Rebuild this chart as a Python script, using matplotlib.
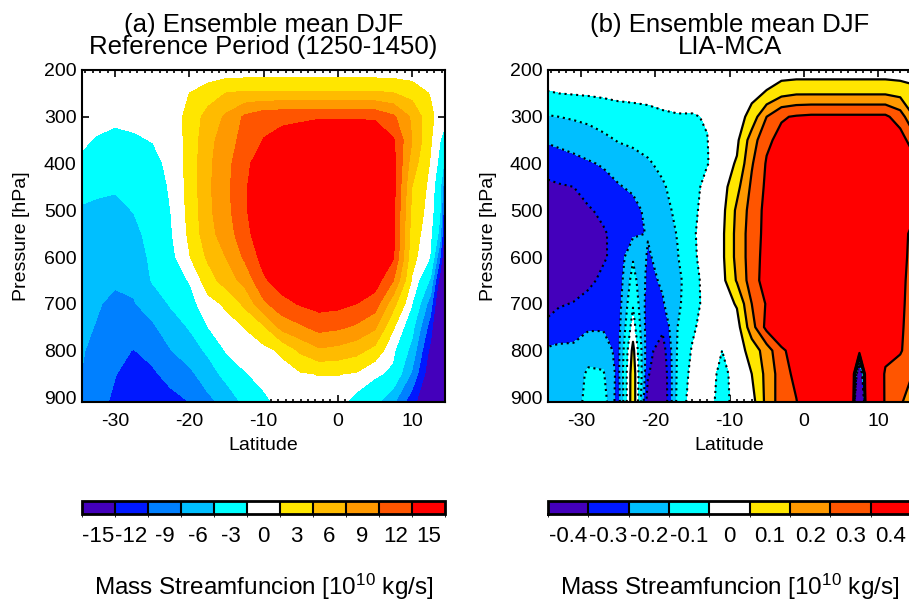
import matplotlib
matplotlib.use("Agg")
import matplotlib.pyplot as plt
import numpy as np
from matplotlib.colors import ListedColormap, BoundaryNorm
from matplotlib.cm import ScalarMappable
from matplotlib.ticker import MultipleLocator

plt.rcParams['font.family'] = ['Liberation Sans', 'DejaVu Sans']
plt.rcParams['axes.unicode_minus'] = False

# pressure levels (hPa), shared by both panels
plev = [200, 250, 300, 350, 400, 450, 500, 550, 600, 650, 700, 750, 800, 850, 910]

# (a) reference period, 10^10 kg/s, one list per latitude column (top -> bottom)
lat_ref = [-35, -32.5, -30, -27.5, -25, -22.5, -20, -17.5, -15, -12.5, -10,
           -7.5, -5, -2.5, 0, 2.5, 5, 7.5, 10, 12.5, 13.75, 15]
psi_ref_cols = [
    [0, 0, -0.5, -1.0, -1.7, -3.2, -4.8, -5.8, -6.3, -6.6, -6.8, -7.0, -7.0, -7.2, -7.2],
    [0, -0.3, -0.9, -1.6, -2.7, -4.0, -5.0, -5.9, -6.5, -7.0, -7.3, -7.6, -8.3, -9.0, -9.6],
    [0, -0.6, -1.1, -1.9, -3.1, -4.2, -5.2, -6.0, -6.6, -7.2, -8.0, -9.0, -9.8, -10.4, -11.0],
    [0, -0.5, -1.0, -1.7, -2.6, -3.4, -4.4, -5.3, -6.1, -6.9, -7.7, -9.0, -10.6, -11.6, -12.2],
    [0, -0.3, -0.8, -1.4, -2.0, -2.5, -3.0, -3.5, -3.9, -4.3, -6.2, -8.0, -9.6, -11.0, -12.5],
    [0, 0, -0.3, -0.7, -1.0, -1.2, -1.4, -1.6, -2.2, -3.0, -4.2, -6.0, -7.6, -9.5, -11.5],
    [-0.5, 1.5, 2.5, 2.6, 2.6, 2.5, 2.3, 2.0, 1.3, -1.2, -2.5, -4.3, -6.0, -8.2, -10.5],
    [-0.4, 3.0, 5.6, 6.4, 6.8, 6.9, 6.8, 6.4, 5.0, 3.0, 0.5, -1.3, -4.0, -6.0, -8.3],
    [-0.3, 4.6, 8.0, 9.2, 9.6, 9.8, 9.6, 9.0, 7.6, 6.0, 2.0, 0.3, -1.0, -3.5, -6.5],
    [-0.3, 5.0, 11.0, 11.5, 12.6, 13.0, 13.0, 12.4, 11.0, 8.5, 5.2, 1.6, 0.2, -1.6, -3.8],
    [-0.3, 5.0, 12.5, 13.6, 15.5, 16.5, 16.5, 15.8, 14.6, 13.0, 9.8, 4.0, 0.6, -0.5, -2.0],
    [-0.3, 5.0, 12.8, 14.5, 17.0, 18.0, 18.0, 17.5, 16.5, 15.0, 12.5, 8.5, 2.0, 0.4, -0.5],
    [-0.3, 5.0, 13.0, 15.0, 18.0, 19.0, 19.0, 18.5, 17.5, 16.0, 13.8, 10.0, 5.0, 1.2, 0.0],
    [-0.3, 5.0, 13.0, 17.5, 19.5, 20.0, 20.0, 19.5, 18.5, 17.0, 14.6, 11.5, 7.0, 1.6, 0.2],
    [-0.3, 5.0, 13.0, 17.5, 19.5, 20.0, 20.0, 19.5, 18.5, 17.0, 14.4, 11.0, 6.5, 1.6, 0.0],
    [-0.3, 5.0, 13.0, 17.5, 19.0, 19.5, 19.5, 19.0, 18.0, 16.0, 13.5, 10.0, 5.5, 1.2, -2.6],
    [-0.3, 5.0, 12.8, 17.0, 18.5, 19.0, 19.0, 18.5, 17.0, 15.0, 12.0, 8.0, 3.5, -0.9, -3.7],
    [-0.3, 4.6, 11.0, 13.8, 14.5, 14.5, 14.2, 14.0, 13.8, 10.5, 5.5, 1.8, -0.8, -2.0, -7.0],
    [-0.3, 3.4, 7.0, 7.5, 6.0, 4.5, 3.8, 3.2, 2.5, 1.2, -1.0, -3.5, -5.5, -8.0, -12.5],
    [-0.3, 1.3, 2.2, 1.8, 1.2, 0.6, 0.2, -0.5, -1.2, -5.0, -9.0, -12.0, -14.5, -16.0, -17.0],
    [-0.5, 0.0, 0.3, -1.0, -2.0, -3.5, -4.0, -5.5, -10.0, -15.0, -18.0, -20.0, -21.0, -21.0, -19.0],
    [-0.8, -1.0, -1.4, -4.0, -8.0, -16.0, -22.0, -24.0, -24.0, -24.0, -24.0, -24.0, -24.0, -24.0, -20.0],
]

# (b) LIA-MCA difference, in units of 0.1 x 10^10 kg/s
lat_diff = [-35, -33, -31, -29, -27, -25, -23, -21, -19, -17, -15, -13, -11, -9,
            -7, -5, -3, -1, 1, 3, 5, 6.5, 7.5, 8.5, 11, 13, 15]
psi_diff_cols = [
    [-0.2, -0.55, -1.6, -2.45, -3.0, -3.8, -4.5, -4.8, -4.8, -4.5, -4.0, -3.3, -2.4, -2.0, -1.9],
    [-0.2, -0.5, -1.5, -2.3, -2.9, -3.6, -4.3, -4.6, -4.6, -4.2, -3.6, -3.0, -2.3, -2.0, -1.9],
    [-0.15, -0.45, -1.4, -2.1, -2.8, -3.5, -4.1, -4.4, -4.4, -4.0, -3.45, -2.9, -2.3, -2.1, -2.2],
    [-0.1, -0.4, -1.3, -1.9, -2.6, -3.1, -3.6, -4.0, -4.0, -3.7, -3.2, -2.6, -2.0, -1.3, -1.0],
    [-0.1, -0.35, -1.1, -1.7, -2.4, -2.9, -3.3, -3.6, -3.6, -3.3, -3.0, -2.6, -2.0, -1.4, -1.0],
    [-0.1, -0.3, -0.9, -1.45, -2.0, -2.6, -3.0, -3.2, -3.2, -3.1, -3.0, -2.9, -2.8, -2.8, -3.0],
    [-0.1, -0.3, -0.8, -1.35, -1.8, -2.3, -2.9, -2.7, -1.6, -1.1, -0.6, 0.0, 0.8, 1.2, 1.3],
    [-0.1, -0.3, -0.7, -1.2, -1.6, -2.0, -2.2, -2.45, -2.6, -2.8, -3.0, -3.1, -3.2, -3.4, -4.0],
    [-0.1, -0.25, -0.6, -1.0, -1.3, -1.6, -1.8, -2.0, -2.2, -2.35, -2.6, -3.3, -4.0, -4.4, -4.5],
    [-0.1, -0.2, -0.55, -0.8, -1.0, -1.15, -1.3, -1.45, -1.55, -1.7, -1.65, -1.5, -1.4, -1.3, -1.2],
    [-0.1, -0.2, -0.55, -0.75, -0.9, -0.95, -0.8, -0.65, -0.72, -1.0, -1.0, -0.67, -0.4, -0.2, 0.0],
    [-0.1, -0.2, -0.45, -0.52, -0.55, -0.1, 0.0, 0.0, 0.0, 0.0, -0.05, 0.0, 0.0, 0.0, 0.0],
    [0.0, 0.0, 0.0, 0.0, 0.05, 0.1, 0.2, 0.3, 0.3, 0.2, 0.0, -0.2, -0.5, -0.8, -1.0],
    [0.0, 0.0, 0.0, 0.3, 0.6, 1.2, 1.7, 1.8, 1.8, 1.6, 0.6, 0.1, 0.0, -0.1, 0.0],
    [0.0, 0.2, 0.9, 2.0, 2.4, 2.7, 2.9, 3.0, 3.0, 3.0, 2.5, 2.1, 0.9, 0.5, 0.1],
    [-0.1, 0.6, 2.5, 3.3, 3.6, 3.7, 3.8, 3.8, 3.9, 4.0, 3.6, 3.8, 2.0, 1.8, 1.8],
    [-0.1, 1.2, 3.4, 3.8, 4.3, 4.6, 4.8, 4.9, 5.0, 5.0, 4.8, 4.6, 3.3, 3.0, 3.0],
    [-0.1, 1.4, 3.6, 4.8, 5.2, 5.5, 5.6, 5.6, 5.6, 5.5, 5.3, 5.0, 4.0, 3.8, 3.45],
    [-0.1, 1.4, 3.7, 5.0, 5.5, 5.8, 5.9, 5.9, 5.9, 5.8, 5.6, 5.3, 5.0, 4.6, 4.5],
    [-0.1, 1.4, 3.7, 5.0, 5.6, 5.9, 6.0, 6.0, 6.0, 5.9, 5.7, 5.5, 5.2, 5.0, 5.0],
    [-0.1, 1.4, 3.7, 5.0, 5.6, 5.9, 6.0, 6.0, 6.0, 5.9, 5.7, 5.5, 5.2, 5.0, 5.0],
    [-0.1, 1.4, 3.7, 5.0, 5.6, 5.9, 6.0, 6.0, 6.0, 5.9, 5.7, 5.5, 5.2, 8.0, 12.0],
    [-0.1, 1.4, 3.7, 5.0, 5.6, 5.9, 6.0, 6.0, 6.0, 5.9, 5.7, 5.5, 5.0, -10.0, -30.0],
    [-0.1, 1.4, 3.7, 5.0, 5.6, 5.9, 6.0, 6.0, 6.0, 5.9, 5.7, 5.5, 5.2, 8.0, 12.0],
    [-0.1, 1.4, 3.7, 4.9, 5.3, 5.5, 5.5, 5.3, 5.0, 4.8, 4.6, 4.4, 4.2, 3.2, 3.0],
    [-0.1, 1.2, 3.0, 4.0, 4.4, 4.6, 4.7, 4.3, 4.1, 3.9, 3.8, 3.7, 3.6, 3.0, 2.6],
    [-0.2, 0.9, 1.4, 2.8, 3.8, 4.2, 3.8, 2.8, 2.8, 2.8, 2.8, 2.8, 2.8, 2.4, 2.0],
]

ref_colors = ['#4400bb', '#0018ff', '#0080ff', '#00bfff', '#00ffff', 'white',
              '#ffe600', '#ffbb00', '#ff9900', '#ff5500', '#ff0000']
ref_bounds = [-99, -13.5, -10.5, -7.5, -4.5, -1.5, 1.5, 4.5, 7.5, 10.5, 13.5, 99]
ref_labels = ['-15', '-12', '-9', '-6', '-3', '0', '3', '6', '9', '12', '15']

diff_colors = ['#4400bb', '#0018ff', '#00bfff', '#00ffff', 'white',
               '#ffe600', '#ff9900', '#ff5500', '#ff0000']
diff_bounds = [-9.9, -0.35, -0.25, -0.15, -0.05, 0.05, 0.15, 0.25, 0.35, 9.9]
diff_labels = ['-0.4', '-0.3', '-0.2', '-0.1', '0', '0.1', '0.2', '0.3', '0.4']

psi_ref = np.array(psi_ref_cols).T
psi_diff = np.array(psi_diff_cols).T * 0.1

W, H = 909, 601
fig = plt.figure(figsize=(W / 100, H / 100), dpi=100)


def fill_colors(cols):
    # white band left transparent so the inward ticks show through
    return [(1, 1, 1, 0) if c == 'white' else c for c in cols]


def setup_axes(ax):
    ax.set_xlim(-34.45, 14.45)
    ax.set_ylim(910, 200)
    ax.set_axisbelow(True)
    ax.set_xticks([-30, -20, -10, 0, 10])
    ax.set_yticks([200, 300, 400, 500, 600, 700, 800, 900])
    ax.xaxis.set_minor_locator(MultipleLocator(1))
    ax.tick_params(which='both', direction='in', top=True, right=True, width=1.2)
    ax.tick_params(which='major', length=5, labelsize=14)
    ax.tick_params(which='minor', length=2.5)
    ax.tick_params(axis='x', pad=8)
    ax.tick_params(axis='y', pad=4)
    for s in ax.spines.values():
        s.set_linewidth(1.5)


def add_cbar(left, colors, labels):
    cax = fig.add_axes([left / W, 1 - 514 / H, 363 / W, 13 / H])
    n = len(colors)
    norm = BoundaryNorm(np.arange(n + 1), n)
    cb = fig.colorbar(ScalarMappable(norm=norm, cmap=ListedColormap(colors)),
                      cax=cax, orientation='horizontal', drawedges=True,
                      ticks=np.arange(n) + 0.5)
    cb.set_ticklabels(labels)
    cb.ax.tick_params(length=0, labelsize=16, pad=9)
    cb.outline.set_linewidth(2)
    cb.dividers.set_linewidth(1.5)
    cb.dividers.set_color('black')
    return cb


# panel (a)
ax1 = fig.add_axes([82 / W, 1 - 402 / H, 363 / W, 332 / H])
ax1.contourf(lat_ref, plev, psi_ref, levels=ref_bounds, colors=fill_colors(ref_colors))
setup_axes(ax1)

# panel (b)
ax2 = fig.add_axes([548 / W, 1 - 402 / H, 363 / W, 332 / H])
ax2.contourf(lat_diff, plev, psi_diff, levels=diff_bounds, colors=fill_colors(diff_colors))
ax2.contour(lat_diff, plev, psi_diff, levels=[-0.35, -0.25, -0.15, -0.05],
            colors='k', linewidths=1.5, linestyles=[(0, (1.0, 1.8))])
ax2.contour(lat_diff, plev, psi_diff, levels=[0.05, 0.15, 0.25, 0.35],
            colors='k', linewidths=1.6, linestyles='solid')
setup_axes(ax2)

for cx, title in [(263.5, '(a) Ensemble mean DJF\nReference Period (1250-1450)'),
                  (729.5, '(b) Ensemble mean DJF\nLIA-MCA')]:
    fig.text(cx / W, 1 - 59 / H, title, ha='center', va='bottom', fontsize=18.5,
             linespacing=0.9, multialignment='center')
    fig.text(cx / W, 1 - 450 / H, 'Latitude', ha='center', va='baseline', fontsize=14)
    fig.text(cx / W, 1 - 595 / H, r'Mass Streamfuncion [$\mathregular{10^{10}}$ kg/s]',
             ha='center', va='baseline', fontsize=17.5)

for yx in [22, 489]:
    fig.text(yx / W, 1 - 236 / H, 'Pressure [hPa]', rotation=90, ha='center',
             va='center', fontsize=14)

add_cbar(82, ref_colors, ref_labels)
add_cbar(548, diff_colors, diff_labels)

fig.savefig('out.png', dpi=100)
